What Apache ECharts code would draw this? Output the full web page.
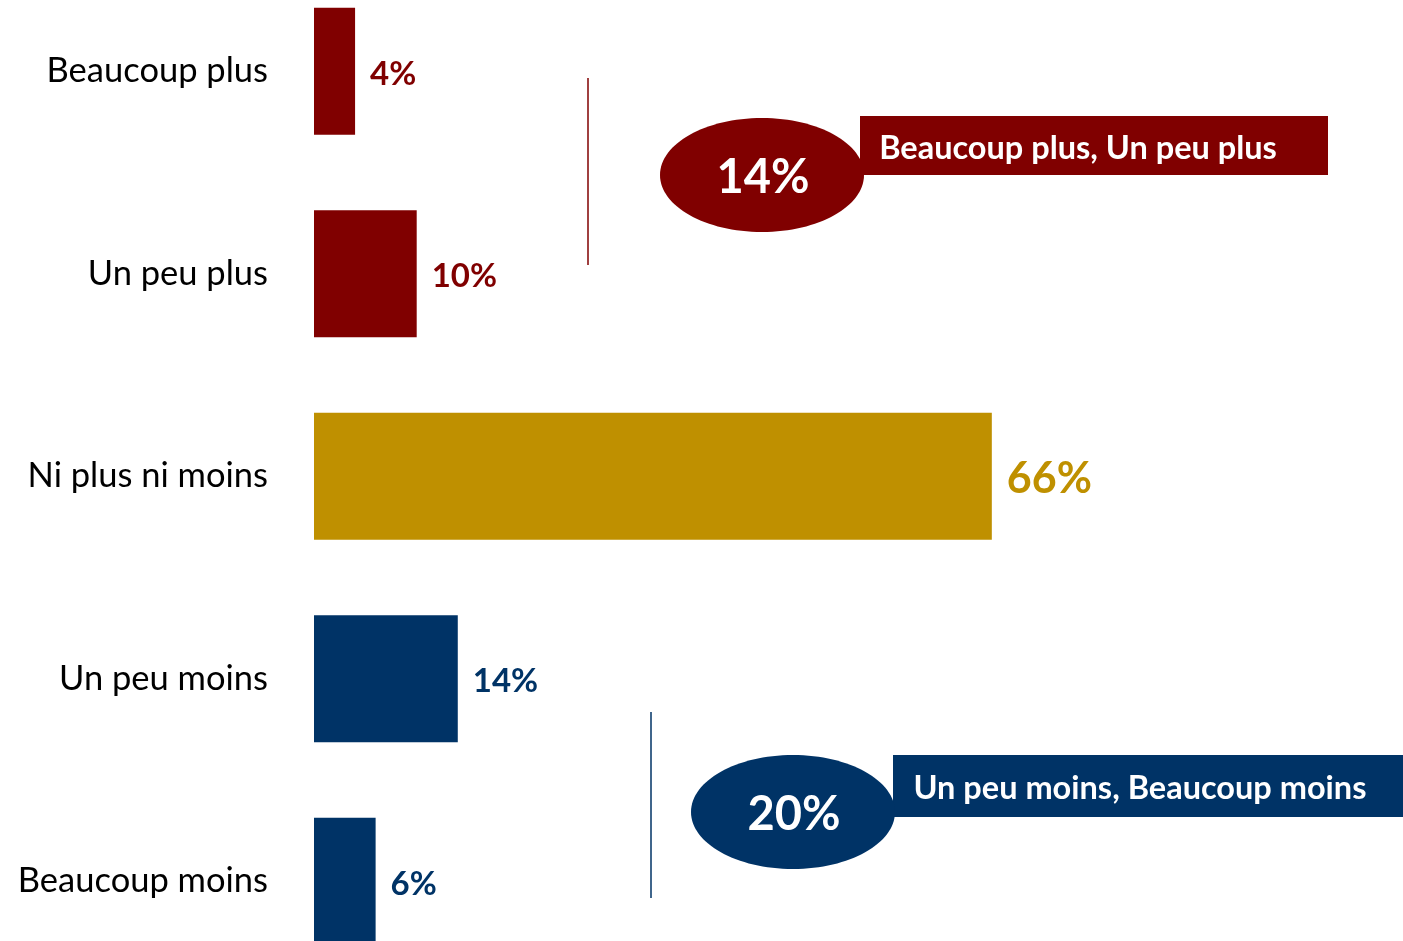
<!DOCTYPE html>
<html>
<head>
<meta charset="utf-8">
<script src="https://cdn.jsdelivr.net/npm/echarts@6/dist/echarts.min.js"></script>
<style>
html,body{margin:0;padding:0;background:#fff;}
#chart{width:1403px;height:941px;}
</style>
</head>
<body>
<div id="chart"></div>
<script>
const categories = ['Beaucoup plus', 'Un peu plus', 'Ni plus ni moins', 'Un peu moins', 'Beaucoup moins'];
const values = [4, 10, 66, 14, 6];
const barColors = ['#800000', '#800000', '#BF9000', '#003366', '#003366'];
const groupTop = { label: 'Beaucoup plus, Un peu plus', members: [0, 1] };
const groupBottom = { label: 'Un peu moins, Beaucoup moins', members: [3, 4] };

const FONT = 'Lato, "Open Sans", sans-serif';
const sumOf = g => g.members.reduce((s, i) => s + values[i], 0);

const chart = echarts.init(document.getElementById('chart'));
chart.setOption({
  animation: false,
  backgroundColor: '#ffffff',
  grid: { left: 314, right: 62, top: -30, bottom: -41.5, containLabel: false, outerBoundsMode: 'none' },
  xAxis: { type: 'value', min: 0, max: 100, show: false },
  yAxis: {
    type: 'category', data: categories, inverse: true,
    axisLine: { show: false }, axisTick: { show: false }, splitLine: { show: false },
    axisLabel: { color: '#000', fontSize: 34.5, fontFamily: FONT, margin: 46, padding: [4, 0, 0, 0] }
  },
  series: [{
    type: 'bar',
    barWidth: 127,
    data: values.map((v, i) => ({
      value: v,
      itemStyle: { color: barColors[i] },
      label: { color: barColors[i], fontSize: v > 50 ? 43 : 33 }
    })),
    label: {
      show: true, position: 'right', distance: 15, offset: [0, 3],
      fontWeight: 'bold', fontFamily: FONT,
      formatter: p => p.value + '%'
    }
  }],
  graphic: [
    { type: 'line', shape: { x1: 588, y1: 78, x2: 588, y2: 265 }, style: { stroke: '#800000', lineWidth: 1.5 } },
    { type: 'rect', shape: { x: 860, y: 116, width: 468, height: 59 }, style: { fill: '#800000' } },
    { type: 'ellipse', shape: { cx: 762, cy: 175, rx: 102, ry: 57 }, style: { fill: '#800000' } },
    { type: 'text', x: 1078, y: 149, style: { text: groupTop.label, fill: '#fff', font: 'bold 32.5px ' + FONT, align: 'center', verticalAlign: 'middle' } },
    { type: 'text', x: 763, y: 178, style: { text: sumOf(groupTop) + '%', fill: '#fff', font: 'bold 47px ' + FONT, align: 'center', verticalAlign: 'middle' } },

    { type: 'line', shape: { x1: 651, y1: 712, x2: 651, y2: 898 }, style: { stroke: '#003366', lineWidth: 1.5 } },
    { type: 'rect', shape: { x: 893, y: 755, width: 520, height: 62 }, style: { fill: '#003366' } },
    { type: 'ellipse', shape: { cx: 793, cy: 812, rx: 102, ry: 57 }, style: { fill: '#003366' } },
    { type: 'text', x: 1140, y: 789, style: { text: groupBottom.label, fill: '#fff', font: 'bold 32.5px ' + FONT, align: 'center', verticalAlign: 'middle' } },
    { type: 'text', x: 794, y: 815, style: { text: sumOf(groupBottom) + '%', fill: '#fff', font: 'bold 47px ' + FONT, align: 'center', verticalAlign: 'middle' } }
  ]
});
</script>
</body>
</html>
